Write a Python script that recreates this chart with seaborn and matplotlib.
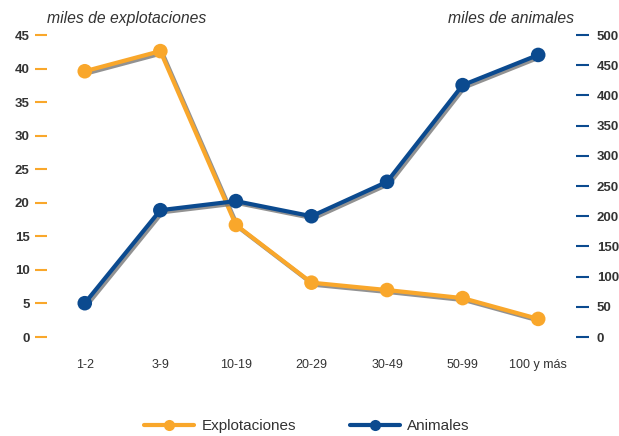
import seaborn as sns
import matplotlib.pyplot as plt
import matplotlib.patheffects as pe
from matplotlib.lines import Line2D
import numpy as np
import pandas as pd

# Data
categories = ["1-2", "3-9", "10-19", "20-29", "30-49", "50-99", "100 y más"]
explotaciones = [39.6, 42.6, 16.7, 8.1, 7.0, 5.8, 2.7]   # miles de explotaciones
animales = [56, 210, 225, 200, 257, 417, 467]           # miles de animales

left_ticks = list(range(0, 50, 5))
right_ticks = list(range(0, 550, 50))

orange = "#F9A72B"
blue = "#0B4A8F"
text_col = "#333333"

df = pd.DataFrame({"grupo": categories, "Explotaciones": explotaciones, "Animales": animales})

sns.set_theme(style="white")
plt.rcParams["font.family"] = ["Liberation Sans", "DejaVu Sans"]

fig = plt.figure(figsize=(6.19, 4.36), dpi=100)
ax = fig.add_axes([0.0759, 0.227, 0.8546, 0.6927])
ax2 = ax.twinx()

shadow = [pe.SimpleLineShadow(offset=(1.5, -1.5), shadow_color="#777777", alpha=0.8), pe.Normal()]

sns.lineplot(data=df, x="grupo", y="Explotaciones", sort=False, ax=ax, color=orange,
             linewidth=3, marker="o", markersize=10.5, markeredgewidth=0, legend=False)
sns.lineplot(data=df, x="grupo", y="Animales", sort=False, ax=ax2, color=blue,
             linewidth=3, marker="o", markersize=10.5, markeredgewidth=0, legend=False)

for a in (ax, ax2):
    for line in a.get_lines():
        line.set_path_effects(shadow)
        line.set_clip_on(False)
    for s in a.spines.values():
        s.set_visible(False)
    a.set_xlabel("")
    a.set_ylabel("")
    a.grid(False)

ax.set_xlim(-0.5, 6.5)
ax.set_ylim(0, 45)
ax2.set_ylim(0, 500)
ax.set_yticks(left_ticks)
ax2.set_yticks(right_ticks)

ax.tick_params(axis="y", left=True, length=9, width=1.5, color=orange, pad=3.5,
               labelsize=9.5, labelcolor=text_col)
ax2.tick_params(axis="y", right=True, length=9, width=1.5, color=blue, pad=6,
                labelsize=9.5, labelcolor=text_col)
for lab in ax.get_yticklabels() + ax2.get_yticklabels():
    lab.set_fontweight("bold")

ax.tick_params(axis="x", bottom=False, pad=10, labelsize=9, labelcolor=text_col)

fig.text(0.205, 0.957, "miles de explotaciones", style="italic", fontsize=11.3,
         color=text_col, ha="center", va="center")
fig.text(0.826, 0.957, "miles de animales", style="italic", fontsize=11.3,
         color=text_col, ha="center", va="center")

handles = [
    Line2D([], [], color=orange, linewidth=3, marker="o", markersize=8, markeredgewidth=0),
    Line2D([], [], color=blue, linewidth=3, marker="o", markersize=8, markeredgewidth=0),
]
fig.legend(handles, ["Explotaciones", "Animales"], loc="center", bbox_to_anchor=(0.496, 0.022),
           ncol=2, frameon=False, fontsize=11, handlelength=3.27, columnspacing=3.5,
           handletextpad=0.5, labelcolor=text_col)

fig.savefig("out.png", dpi=100)
